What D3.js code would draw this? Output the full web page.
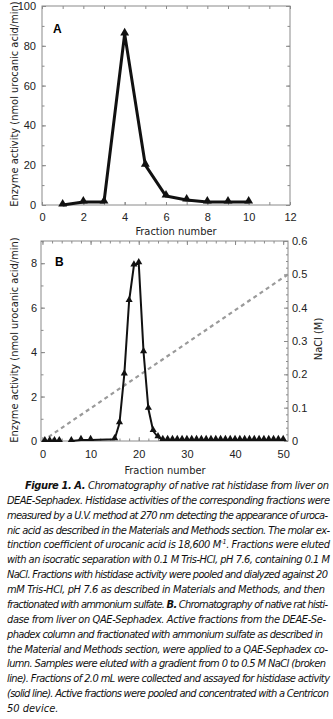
<!DOCTYPE html>
<html lang="en">
<head>
    <meta charset="UTF-8">
    <title>Histidase chromatography</title>
    <script src="https://d3js.org/d3.v7.min.js"></script>
    <style>
        body { margin: 0; background: #fff; }
        svg { display: block; }
        .narrow { font-family: 'Liberation Sans Narrow', 'Arial Narrow', 'DejaVu Sans Condensed', sans-serif; }
    </style>
</head>
<body>
    <div id="chart"></div>

    <script>
        // Panel A: DEAE-Sephadex
        const fracA = [1, 2, 3, 4, 5, 6, 7, 8, 9, 10];
        const actA = [0, 1.5, 1.5, 86, 20, 4.5, 2.5, 1.5, 1.5, 1.5];

        // Panel B: QAE-Sephadex
        const fracB = [0.5, 1.5, 2.5, 3.5, 6, 8, 10, 15, 16, 17, 18, 19, 20, 21, 22, 23, 24,
            25, 26, 27, 28, 29, 30, 31, 32, 33, 34, 35, 36, 37, 38, 39, 40, 41, 42, 43, 44, 45, 46, 47, 48, 49, 50];
        const actB = [0, 0, 0, 0, 0, 0.05, 0.05, 0.08, 0.8, 3.0, 6.3, 7.9, 8.0, 4.0, 1.45, 0.45, 0.17,
            0.05, 0.05, 0.05, 0.05, 0.05, 0.05, 0.05, 0.05, 0.05, 0.05, 0.05, 0.05, 0.05, 0.05, 0.05, 0.05,
            0.05, 0.05, 0.05, 0.05, 0.05, 0.05, 0.05, 0.05, 0.05, 0.05];
        // NaCl gradient (broken line)
        const naclFrac = [0, 51];
        const nacl = [0, 0.5];

        const ticksAx = [0, 2, 4, 6, 8, 10, 12];
        const ticksAy = [0, 20, 40, 60, 80, 100];
        const ticksBx = [0, 10, 20, 30, 40, 50];
        const ticksBy = [0, 2, 4, 6, 8];
        const ticksBr = [0, 0.1, 0.2, 0.3, 0.4, 0.5, 0.6];

        const caption = [
            [["Figure 1. A.", true], [" Chromatography of native rat histidase from liver on", false]],
            [["DEAE-Sephadex. Histidase activities of the corresponding fractions were", false]],
            [["measured by a U.V. method at 270 nm detecting the appearance of uroca-", false]],
            [["nic acid as described in the Materials and Methods section. The molar ex-", false]],
            [["tinction coefficient of urocanic acid is 18,600 M", false], ["-1", "sup"], [". Fractions were eluted", false]],
            [["with an isocratic separation with 0.1 M Tris-HCl, pH 7.6, containing 0.1 M", false]],
            [["NaCl. Fractions with histidase activity were pooled and dialyzed against 20", false]],
            [["mM Tris-HCl, pH 7.6 as described in Materials and Methods, and then", false]],
            [["fractionated with ammonium sulfate. ", false], ["B.", true], [" Chromatography of native rat histi-", false]],
            [["dase from liver on QAE-Sephadex. Active fractions from the DEAE-Se-", false]],
            [["phadex column and fractionated with ammonium sulfate as described in", false]],
            [["the Material and Methods section, were applied to a QAE-Sephadex co-", false]],
            [["lumn. Samples were eluted with a gradient from 0 to 0.5 M NaCl (broken", false]],
            [["line). Fractions of 2.0 mL were collected and assayed for histidase activity", false]],
            [["(solid line). Active fractions were pooled and concentrated with a Centricon", false]],
            [["50 device.", false]]
        ];
        const captionEnd = [329, 330, 328, 330, 330, 330, 328, 325, 328, 326, 323, 328, 326, 330, 329, null];

        const width = 333, height = 719;
        const svg = d3.select("#chart").append("svg")
            .attr("width", width)
            .attr("height", height)
            .attr("class", "narrow")
            .style("background", "#fff");

        const frameColor = "#8a8a8a";

        // draw inward ticks (both sides mirrored)
        function tickAxis(g, axisFn, scale, values, size, labels, pad) {
            const ax = axisFn(scale).tickValues(values).tickSizeInner(-size).tickSizeOuter(0)
                .tickPadding(pad || 0);
            if (!labels) ax.tickFormat("");
            g.call(ax);
            g.select(".domain").remove();
            g.selectAll(".tick line").attr("stroke", frameColor);
            g.selectAll(".tick text").attr("font-size", 11).attr("fill", "#222")
                .attr("font-family", null);
            return g;
        }

        // ---------- Panel A ----------
        const xA = d3.scaleLinear().domain([0, 12]).range([42, 290]);
        const yA = d3.scaleLinear().domain([0, 100]).range([205, 6]);
        const intsA = d3.range(0, 13);
        const tensA = d3.range(0, 101, 10);

        const gA = svg.append("g");
        tickAxis(gA.append("g").attr("transform", "translate(0,205)"), d3.axisBottom, xA, intsA, 3, false);
        tickAxis(gA.append("g").attr("transform", "translate(0,205)"), d3.axisBottom, xA, ticksAx, 3, true, 8);
        tickAxis(gA.append("g").attr("transform", "translate(0,6)"), d3.axisTop, xA, intsA, 3, false);
        tickAxis(gA.append("g").attr("transform", "translate(42,0)"), d3.axisLeft, yA, tensA, 2.5, false);
        tickAxis(gA.append("g").attr("transform", "translate(42,0)"), d3.axisLeft, yA, ticksAy, 4, true, 6);
        tickAxis(gA.append("g").attr("transform", "translate(290,0)"), d3.axisRight, yA, tensA, 2.5, false);
        tickAxis(gA.append("g").attr("transform", "translate(290,0)"), d3.axisRight, yA, ticksAy, 4, false);

        gA.append("rect")
            .attr("x", xA(0)).attr("y", yA(100))
            .attr("width", xA(12) - xA(0)).attr("height", yA(0) - yA(100))
            .attr("fill", "none").attr("stroke", frameColor).attr("stroke-width", 1);

        const ptsA = fracA.map((f, i) => [f, actA[i]]);
        gA.append("path")
            .datum(ptsA)
            .attr("fill", "none")
            .attr("stroke", "#111")
            .attr("stroke-width", 3)
            .attr("stroke-linejoin", "round")
            .attr("d", d3.line().x(d => xA(d[0])).y(d => yA(d[1])));
        gA.selectAll(".triA")
            .data(ptsA)
            .join("path")
            .attr("transform", d => `translate(${xA(d[0])},${yA(d[1]) - 1})`)
            .attr("d", d3.symbol(d3.symbolTriangle, 34))
            .attr("fill", "#111");

        gA.append("text").attr("x", 53).attr("y", 33)
            .attr("font-family", "Liberation Sans, Arial, sans-serif")
            .attr("font-weight", "bold").attr("font-size", 12).text("A");
        gA.append("text").attr("x", 176).attr("y", 235)
            .attr("text-anchor", "middle").attr("font-size", 11).attr("fill", "#222")
            .text("Fraction number");
        gA.append("text")
            .attr("transform", "translate(18,104) rotate(-90)")
            .attr("text-anchor", "middle").attr("font-size", 11).attr("fill", "#222")
            .text("Enzyme activity (nmol urocanic acid/min)");

        // ---------- Panel B ----------
        const xB = d3.scaleLinear().domain([-0.3, 51]).range([41, 288]);
        const yB = d3.scaleLinear().domain([0, 9]).range([441, 241]);
        const yR = d3.scaleLinear().domain([0, 0.6]).range([441, 241]);
        const evens = d3.range(0, 51, 2);
        const intsB = d3.range(0, 10);
        const fineR = d3.range(0, 31).map(i => i * 0.02);

        const gB = svg.append("g");
        tickAxis(gB.append("g").attr("transform", "translate(0,441)"), d3.axisBottom, xB, evens, 2.5, false);
        tickAxis(gB.append("g").attr("transform", "translate(0,441)"), d3.axisBottom, xB, ticksBx, 4, true, 9);
        tickAxis(gB.append("g").attr("transform", "translate(0,241)"), d3.axisTop, xB, evens, 2.5, false);
        tickAxis(gB.append("g").attr("transform", "translate(0,241)"), d3.axisTop, xB, ticksBx, 4, false);
        tickAxis(gB.append("g").attr("transform", "translate(41,0)"), d3.axisLeft, yB, intsB, 2.5, false);
        tickAxis(gB.append("g").attr("transform", "translate(41,0)"), d3.axisLeft, yB, ticksBy, 4, true, 4);
        tickAxis(gB.append("g").attr("transform", "translate(288,0)"), d3.axisRight, yR, fineR, 2, false);
        const rAx = tickAxis(gB.append("g").attr("transform", "translate(288,0)"), d3.axisRight, yR, ticksBr, 4, true, 4);
        rAx.selectAll(".tick text").text(d => d === 0 ? "0" : d3.format(".1f")(d));

        gB.append("rect")
            .attr("x", 41).attr("y", 241)
            .attr("width", 247).attr("height", 200)
            .attr("fill", "none").attr("stroke", frameColor).attr("stroke-width", 1);

        // NaCl gradient
        gB.append("path")
            .datum(naclFrac.map((f, i) => [f, nacl[i]]))
            .attr("fill", "none")
            .attr("stroke", "#9a9a9a")
            .attr("stroke-width", 2.2)
            .attr("stroke-dasharray", "4,3.5")
            .attr("d", d3.line().x(d => xB(d[0])).y(d => yR(d[1])));

        const ptsB = fracB.map((f, i) => [f, actB[i]]);
        gB.append("path")
            .datum(ptsB.filter(d => d[0] >= 6))
            .attr("fill", "none")
            .attr("stroke", "#111")
            .attr("stroke-width", 2)
            .attr("stroke-linejoin", "round")
            .attr("d", d3.line().x(d => xB(d[0])).y(d => yB(d[1])));
        gB.selectAll(".triB")
            .data(ptsB)
            .join("path")
            .attr("transform", d => `translate(${xB(d[0])},${yB(d[1]) - 1})`)
            .attr("d", d3.symbol(d3.symbolTriangle, 22))
            .attr("fill", "#111");

        gB.append("text").attr("x", 55).attr("y", 266)
            .attr("font-family", "Liberation Sans, Arial, sans-serif")
            .attr("font-weight", "bold").attr("font-size", 12).text("B");
        gB.append("text").attr("x", 165).attr("y", 474)
            .attr("text-anchor", "middle").attr("font-size", 11).attr("fill", "#222")
            .text("Fraction number");
        gB.append("text")
            .attr("transform", "translate(18,340) rotate(-90)")
            .attr("text-anchor", "middle").attr("font-size", 11).attr("fill", "#222")
            .text("Enzyme activity (nmol urocanic acid/min)");
        gB.append("text")
            .attr("transform", "translate(322,339) rotate(-90)")
            .attr("text-anchor", "middle").attr("font-size", 11).attr("fill", "#222")
            .text("NaCl (M)");

        // ---------- Caption ----------
        const cap = svg.append("g").attr("font-style", "italic").attr("font-size", 11).attr("fill", "#111");
        caption.forEach((parts, i) => {
            const x0 = i === 0 ? 25 : 7;
            const t = cap.append("text")
                .attr("x", x0)
                .attr("y", 489 + i * 14.87);
            if (captionEnd[i] !== null) {
                t.attr("textLength", captionEnd[i] - x0).attr("lengthAdjust", "spacing");
            }
            parts.forEach(([s, kind]) => {
                const ts = t.append("tspan").text(s);
                if (kind === true) ts.attr("font-weight", "bold");
                if (kind === "sup") ts.attr("font-size", 7).attr("baseline-shift", "super");
            });
        });
    </script>
</body>
</html>
